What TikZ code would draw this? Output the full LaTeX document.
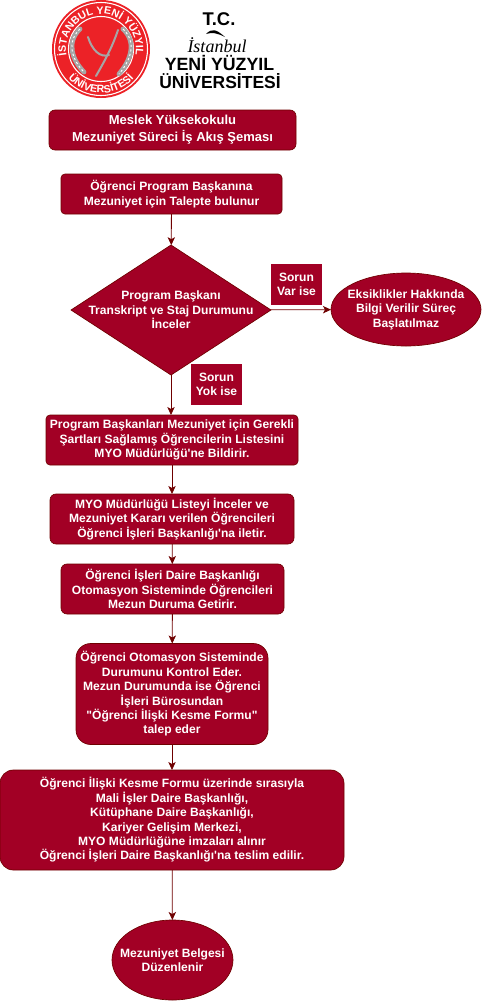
\documentclass[tikz,border=0pt]{standalone}
\usepackage{fontspec}
\setmainfont{Liberation Sans}[Ligatures=TeXOff]
\newfontfamily\fancyfont{Liberation Serif}
\usetikzlibrary{arrows.meta,shapes.geometric,decorations.text}
\definecolor{crim}{HTML}{A20025}
\definecolor{dk}{HTML}{6F0000}
\definecolor{logored}{HTML}{EC2227}
\tikzset{
 base/.style={fill=crim,draw=dk,line width=0.5pt,text=white,font=\bfseries\fontsize{9.05}{10.8}\selectfont,align=center,inner sep=0pt,outer sep=0pt},
 rbox/.style={base,rectangle,rounded corners=4.5pt},
 lbl/.style={base,rectangle,draw=none},
 dia/.style={base,diamond,aspect=1.54},
 ell/.style={base,ellipse},
 inner text/.style={text=white,font=\bfseries\fontsize{9.05}{10.8}\selectfont,align=center,inner sep=0pt},
 arr/.style={draw=dk,line width=0.6pt,-{Stealth[length=6pt,width=5.5pt,inset=1.5pt]}},
 sz/.style 2 args={minimum width=#1*0.75pt,minimum height=#2*0.75pt},
 stave/.style={black!35,line width=3.6pt,line cap=round},
 wrap/.style={white,line width=0.7pt,dash pattern=on 1.6pt off 1.8pt},
 yink/.style={black!35,line width=1.5pt,line cap=round},
}
\begin{document}
\begin{tikzpicture}[x=0.75pt,y=-0.75pt]
\useasboundingbox (0,0) rectangle (482,1001);
% logo
\fill[logored] (101,49) circle (49);
\draw[white,line width=0.8pt] (101,49) circle (46.5);
\draw[white,line width=0.8pt] (101,49) circle (32.5);
\draw[stave] (80,29) .. controls (66,42) and (72,60) .. (84,72);
\draw[wrap] (80,29) .. controls (66,42) and (72,60) .. (84,72);
\draw[stave] (123,29) .. controls (137,42) and (131,60) .. (119,74);
\draw[wrap] (123,29) .. controls (137,42) and (131,60) .. (119,74);
\draw[yink] (118,30) .. controls (112,48) and (104,62) .. (96,76);
\draw[yink] (88,37) .. controls (92,50) and (100,58) .. (109,55);
\path[decorate,decoration={text along path,text align=center,text={|\bfseries\fontsize{8}{9}\selectfont\color{white}|İSTANBUL YENİ YÜZYIL}}]
 ({101+35*cos(186)},{49-35*sin(186)}) arc[start angle=186,end angle=-6,radius=26.25pt];
\path[decorate,decoration={text along path,text align=center,text={|\bfseries\fontsize{8}{9}\selectfont\color{white}|ÜNİVERSİTESİ}}]
 ({101+44*cos(205)},{49-44*sin(205)}) arc[start angle=205,end angle=335,radius=33pt];
% wordmark
\node[font=\bfseries\fontsize{13.8}{14}\selectfont,inner sep=0pt] (tc) at (219,19) {T.C.};
\fill (206,34) .. controls (212,28) and (216,29) .. (225,37) .. controls (217,33) and (212,32) .. (206,34) -- cycle;
\node[font=\fancyfont\itshape\fontsize{13.5}{14}\selectfont,inner sep=0pt] (ist) at (217,45) {İstanbul};
\node[font=\bfseries\fontsize{13.3}{14}\selectfont,inner sep=0pt] (yeni) at (219.5,63) {YENİ YÜZYIL};
\node[font=\bfseries\fontsize{13.1}{14}\selectfont,inner sep=0pt] (uni) at (220,81.5) {ÜNİVERSİTESİ};
% flow
\node[rbox,sz={247}{40},font=\bfseries\fontsize{9.75}{12.8}\selectfont] (title) at (172.5,130) {Meslek Yüksekokulu\\Mezuniyet Süreci İş Akış Şeması};
\node[rbox,rounded corners=3pt,sz={221}{40}] (talep) at (171.5,194) {Öğrenci Program Başkanına\\Mezuniyet için Talepte bulunur};
\node[dia,sz={200}{130},label={[inner text]center:{Program Başkanı\\Transkript ve Staj Durumunu\\İnceler}}] (prog) at (171,310) {};
\node[lbl,sz={51}{41}] (var) at (296.5,284.5) {Sorun\\Var ise};
\node[ell,sz={150}{73},label={[inner text]center:{Eksiklikler Hakkında\\Bilgi Verilir Süreç\\Başlatılmaz}}] (eksik) at (406,309.5) {};
\node[lbl,sz={51}{41}] (yok) at (216.5,384.5) {Sorun\\Yok ise};
\node[rbox,rounded corners=3pt,sz={252}{50}] (liste) at (172,440) {Program Başkanları Mezuniyet için Gerekli\\Şartları Sağlamış Öğrencilerin Listesini\\MYO Müdürlüğü'ne Bildirir.};
\node[rbox,sz={244}{50}] (myo) at (172,519) {MYO Müdürlüğü Listeyi İnceler ve\\Mezuniyet Kararı verilen Öğrencileri\\Öğrenci İşleri Başkanlığı'na iletir.};
\node[rbox,sz={223}{50}] (oto) at (172.5,589) {Öğrenci İşleri Daire Başkanlığı\\Otomasyon Sisteminde Öğrencileri\\Mezun Duruma Getirir.};
\node[rbox,rounded corners=11pt,sz={192}{101}] (kontrol) at (172,694) {Öğrenci Otomasyon Sisteminde\\Durumunu Kontrol Eder.\\Mezun Durumunda ise Öğrenci\\İşleri Bürosundan\\"Öğrenci İlişki Kesme Formu"\\talep eder};
\node[rbox,rounded corners=10pt,sz={344}{100}] (form) at (172,820) {Öğrenci İlişki Kesme Formu üzerinde sırasıyla\\Mali İşler Daire Başkanlığı,\\Kütüphane Daire Başkanlığı,\\Kariyer Gelişim Merkezi,\\MYO Müdürlüğüne imzaları alınır\\Öğrenci İşleri Daire Başkanlığı'na teslim edilir.};
\node[ell,sz={121}{80},label={[inner text]center:{Mezuniyet Belgesi\\Düzenlenir}}] (belge) at (172.5,960) {};
\draw[arr] (talep) -- (prog);
\draw[arr] (prog) -- (eksik);
\draw[arr] (prog.south) -- (liste.north -| prog.south);
\draw[arr] (liste) -- (myo);
\draw[arr] (myo) -- (oto);
\draw[arr] (oto) -- (kontrol);
\draw[arr] (kontrol) -- (form);
\draw[arr] (form) -- (belge);
\end{tikzpicture}
\end{document}
